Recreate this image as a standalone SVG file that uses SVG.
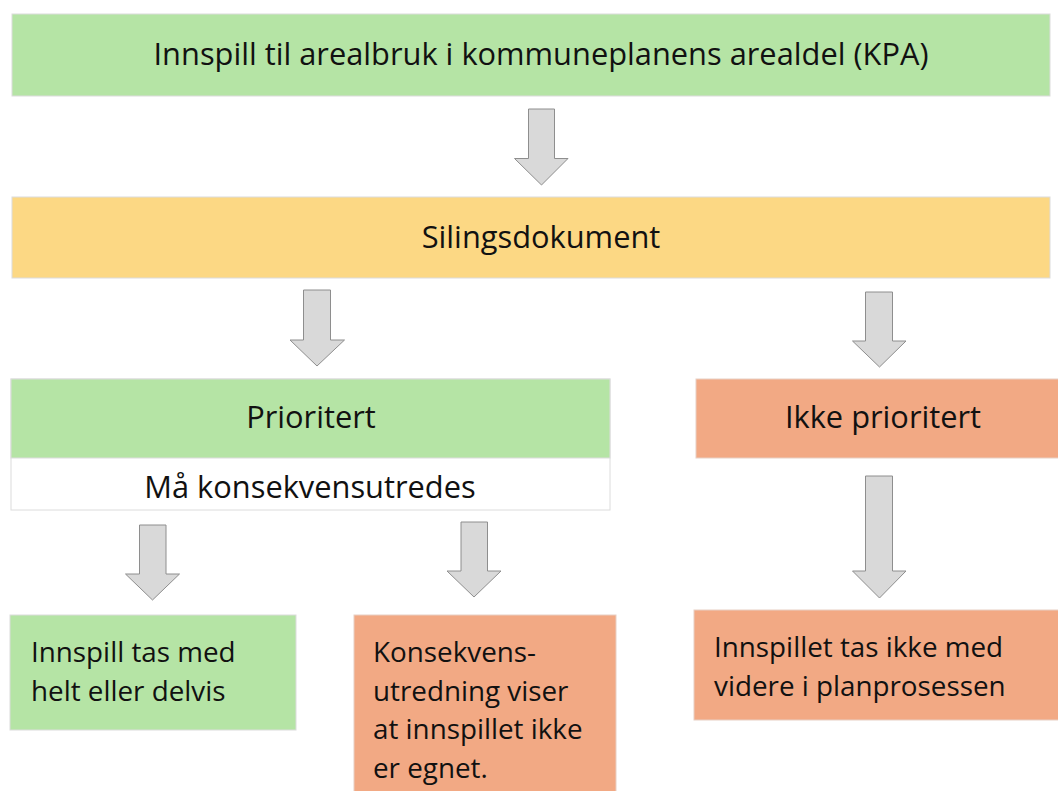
<svg xmlns="http://www.w3.org/2000/svg" width="1058" height="791" viewBox="0 0 1058 791">
<style>
.t{font-family:"Open Sans","Noto Sans",sans-serif;font-size:30.8px;fill:#111}
.s{font-size:27.8px}
.c{text-anchor:middle}
.g{fill:#b5e4a5;stroke:#dcdcdc;stroke-width:1}
.y{fill:#fcd884;stroke:#dcdcdc;stroke-width:1}
.o{fill:#f2a984;stroke:#e8cfc4;stroke-width:1}
.w{fill:#fff;stroke:#dcdcdc;stroke-width:1}
.a{fill:#d9d9d9;stroke:#8e8e8e;stroke-width:1}
</style>
<rect width="1058" height="791" fill="#fff"/>
<g id="kpa"><rect class="g" x="12" y="14" width="1038" height="82"/><text class="t c" x="541" y="65">Innspill til arealbruk i kommuneplanens arealdel (KPA)</text></g>
<g id="siling"><rect class="y" x="12" y="197" width="1038" height="81"/><text class="t c" x="541" y="248">Silingsdokument</text></g>
<g id="prioritert"><rect class="w" x="11" y="379" width="599" height="131"/><rect class="g" x="11" y="379" width="599" height="79"/><text class="t c" x="311" y="428">Prioritert</text><text class="t c" x="310" y="498">Må konsekvensutredes</text></g>
<g id="ikke"><rect class="o" x="696" y="379" width="370" height="79"/><text class="t c" x="883" y="428">Ikke prioritert</text></g>
<g id="med"><rect class="g" x="10" y="615" width="286" height="115"/><text class="t s" x="31" y="662">Innspill tas med</text><text class="t s" x="31" y="701">helt eller delvis</text></g>
<g id="ku"><rect class="o" x="354" y="615" width="262" height="190"/><text class="t s" x="373" y="662">Konsekvens-</text><text class="t s" x="373" y="701">utredning viser</text><text class="t s" x="373" y="739">at innspillet ikke</text><text class="t s" x="373" y="778">er egnet.</text></g>
<g id="ikkemed"><rect class="o" x="694" y="610" width="372" height="110"/><text class="t s" x="714" y="657">Innspillet tas ikke med</text><text class="t s" x="714" y="696">videre i planprosessen</text></g>
<g id="connectors">
<path class="a" d="M528.5 109H554.5V158.5H568L541.5 185L514.5 158.5H528.5Z"/>
<path class="a" d="M303.5 290H330.5V340H344.5L317 366L290 340H303.5Z"/>
<path class="a" d="M865.5 292H892.5V341H906L879.5 367L852.5 341H865.5Z"/>
<path class="a" d="M139.5 525H166V574H179.5L152.5 600L125.5 574H139.5Z"/>
<path class="a" d="M461 522H487.5V571H501L474 597L447 571H461Z"/>
<path class="a" d="M865.5 476H892.5V571H906L879.5 598L852.5 571H865.5Z"/>
</g>
</svg>
